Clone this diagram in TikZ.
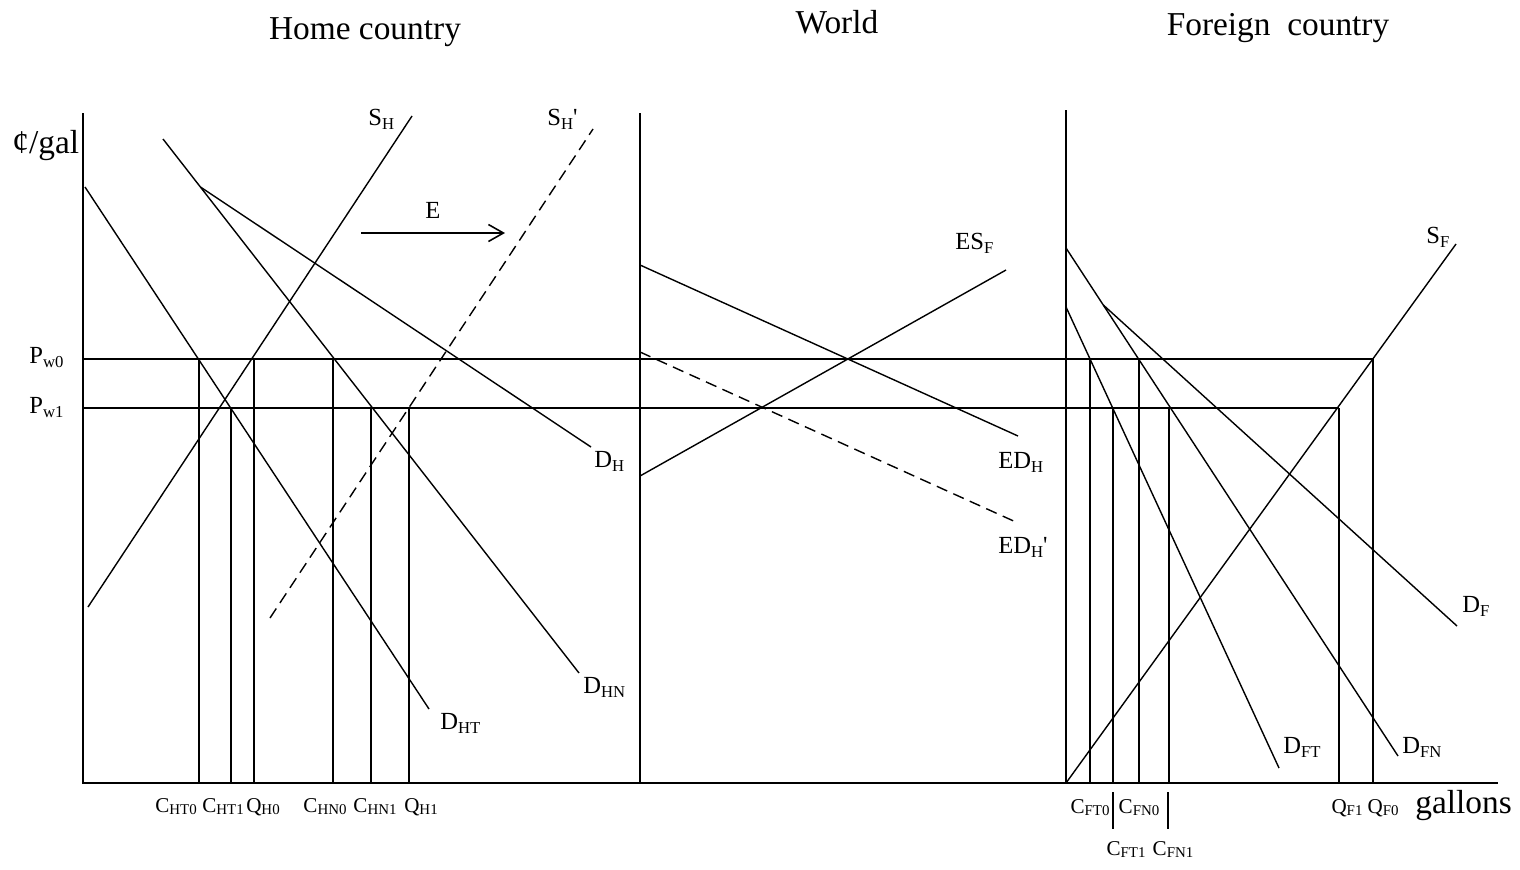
\documentclass[tikz,border=0pt]{standalone}
\usepackage{fontspec}
\setmainfont{Liberation Serif}[Ligatures=TeXOff]
\usetikzlibrary{arrows.meta}
\newcommand\mainlbl[2]{{\fontsize{14}{15}\selectfont #1}\raisebox{-2.3pt}{\fontsize{9.5}{10}\selectfont #2}}
\newcommand\botlbl[2]{{\fontsize{12}{13}\selectfont #1}\raisebox{-1.6pt}{\fontsize{8.5}{9}\selectfont #2}}
\newcommand\myprime{{\fontsize{14}{15}\selectfont\textquotesingle}}
\begin{document}
\begin{tikzpicture}[x=0.02cm,y=-0.02cm,
  curve/.style={line width=0.8pt},
  axis/.style={line width=1.2pt},
  drop/.style={line width=1.1pt},
  tick/.style={line width=0.6pt},
  shifted/.style={line width=0.8pt,dash pattern=on 6.5pt off 3.8pt},
  lbl/.style={inner sep=0pt,anchor=base west},
  blbl/.style={inner sep=0pt,anchor=base},
  ttl/.style={inner sep=0pt,anchor=base,font=\fontsize{19}{20}\selectfont}]
\useasboundingbox (0,0) rectangle (1520,869);

% titles
\node[ttl] (tHome) at (365,39) {Home country};
\node[ttl] (tWorld) at (837,33) {World};
\node[ttl] (tForeign) at (1278,35) {Foreign~ country};

% axes
\coordinate (O) at (83,783);
\coordinate (Ytop) at (83,113);
\coordinate (Xend) at (1498,783);
\coordinate (Wbot) at (640,783);
\coordinate (Wtop) at (640,113);
\coordinate (Fbot) at (1066,783);
\coordinate (Ftop) at (1066,110);
\draw[axis] (Ytop) -- (O) -- (Xend);
\draw[axis] (Wtop) -- (Wbot);
\draw[axis] (Ftop) -- (Fbot);

% world price lines
\coordinate (Pw0a) at (83,359);
\coordinate (Pw0b) at (1373,359);
\coordinate (Pw1a) at (83,408);
\coordinate (Pw1b) at (1339,408);
\draw[curve] (Pw0a) -- (Pw0b);
\draw[curve] (Pw1a) -- (Pw1b);

% home curves
\draw[curve] (85,187) -- (429,709);        % D_HT
\draw[curve] (163,139) -- (579,673);       % D_HN
\draw[curve] (200.4,187) -- (591,447);     % D_H
\draw[curve] (88,607) -- (412,116);        % S_H
\draw[shifted] (270,618) -- (593,129);     % S_H'
\draw[line width=0.9pt,-{Straight Barb[length=0.3cm,width=0.34cm]}] (361,233) -- (505,233);

% home drop lines
\foreach \x in {199,254,333} \draw[drop] (\x,359) -- (\x,783);
\foreach \x in {231,371,409} \draw[drop] (\x,408) -- (\x,783);

% world curves
\draw[curve] (640,265) -- (1018,436);      % ED_H
\draw[shifted] (640,352) -- (1018,523);    % ED_H'
\draw[curve] (640,476) -- (1006,270);      % ES_F

% foreign curves
\draw[curve] (1066,248) -- (1398,756);     % D_FN
\draw[curve] (1103.3,305) -- (1457,626);   % D_F
\draw[curve] (1066,307) -- (1279,768);     % D_FT
\draw[curve] (1066,783) -- (1456,244);     % S_F

% foreign drop lines
\foreach \x in {1090,1139,1373} \draw[drop] (\x,359) -- (\x,783);
\foreach \x in {1113,1169,1339} \draw[drop] (\x,408) -- (\x,783);
\draw[tick] (1113,792) -- (1113,829);
\draw[tick] (1168,792) -- (1168,829);

% axis labels
\node[lbl,font=\fontsize{19}{20}\selectfont] (yl) at (12,153) {¢/gal};
\node[lbl,font=\fontsize{19}{20}\selectfont] (xl) at (1415,813) {gallons};
\node[lbl] (Pw0) at (29,363) {\mainlbl{P}{w0}};
\node[lbl] (Pw1) at (29,413) {\mainlbl{P}{w1}};

% curve labels
\node[lbl] (lSH) at (368,125) {\mainlbl{S}{H}};
\node[lbl] (lSHp) at (547,125) {\mainlbl{S}{H}\myprime};
\node[lbl,font=\fontsize{14}{15}\selectfont] (lE) at (425,218) {E};
\node[lbl] (lDH) at (594,467) {\mainlbl{D}{H}};
\node[lbl] (lDHN) at (583,693) {\mainlbl{D}{HN}};
\node[lbl] (lDHT) at (440,729) {\mainlbl{D}{HT}};
\node[lbl] (lESF) at (955,249) {\mainlbl{ES}{F}};
\node[lbl] (lEDH) at (998,468) {\mainlbl{ED}{H}};
\node[lbl] (lEDHp) at (998,553) {\mainlbl{ED}{H}\myprime};
\node[lbl] (lSF) at (1426,243) {\mainlbl{S}{F}};
\node[lbl] (lDF) at (1462,612) {\mainlbl{D}{F}};
\node[lbl] (lDFT) at (1283,753) {\mainlbl{D}{FT}};
\node[lbl] (lDFN) at (1402,753) {\mainlbl{D}{FN}};

% bottom labels
\node[blbl] (bCHT0) at (176,812) {\botlbl{C}{HT0}};
\node[blbl] (bCHT1) at (223,812) {\botlbl{C}{HT1}};
\node[blbl] (bQH0) at (263,812) {\botlbl{Q}{H0}};
\node[blbl] (bCHN0) at (325,812) {\botlbl{C}{HN0}};
\node[blbl] (bCHN1) at (375,812) {\botlbl{C}{HN1}};
\node[blbl] (bQH1) at (421,812) {\botlbl{Q}{H1}};
\node[blbl] (bCFT0) at (1090,813) {\botlbl{C}{FT0}};
\node[blbl] (bCFN0) at (1139,813) {\botlbl{C}{FN0}};
\node[blbl] (bQF1) at (1347,813) {\botlbl{Q}{F1}};
\node[blbl] (bQF0) at (1383,813) {\botlbl{Q}{F0}};
\node[blbl] (bCFT1) at (1126,855) {\botlbl{C}{FT1}};
\node[blbl] (bCFN1) at (1173,855) {\botlbl{C}{FN1}};
\end{tikzpicture}
\end{document}
